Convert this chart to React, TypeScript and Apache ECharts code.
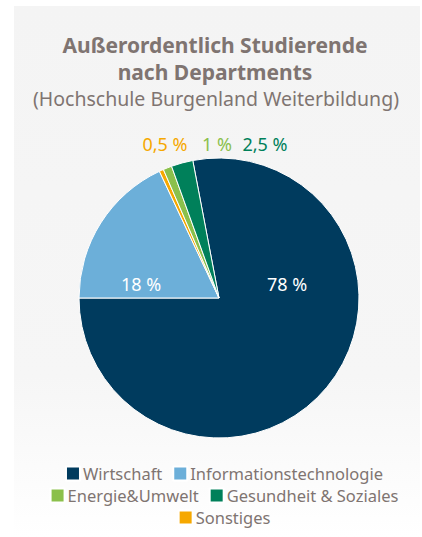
import React, { useEffect, useRef } from "react";
import * as echarts from "echarts";

const titleLines = ["Außerordentlich Studierende", "nach Departments"];
const subtitle = "(Hochschule Burgenland Weiterbildung)";
const categories = ["Wirtschaft", "Informationstechnologie", "Sonstiges", "Energie&Umwelt", "Gesundheit & Soziales"];
const values = [78, 18, 0.5, 1, 2.5];
const labelTexts = ["78 %", "18 %", "0,5 %", "1 %", "2,5 %"];
const colors = ["#003b5e", "#6cafd9", "#f6a800", "#8bc04b", "#00805a"];
const legendRows = [
  ["Wirtschaft", "Informationstechnologie"],
  ["Energie&Umwelt", "Gesundheit & Soziales"],
  ["Sonstiges"],
];

const FONT = "'Noto Sans', sans-serif";
const TEXT = "#7f7471";

export default function App() {
  const ref = useRef<HTMLDivElement>(null);
  useEffect(() => {
    document.body.style.margin = "0";
    const chart = echarts.init(ref.current!, null, { renderer: "svg" });
    const labelPos: Record<number, [number, number]> = {
      0: [287, 284],
      1: [141, 284],
      2: [165, 144],
      3: [217, 144],
      4: [265, 144],
    };
    chart.setOption({
      animation: false,
      title: [
        {
          text: titleLines.join("\n"),
          left: 215,
          textAlign: "center",
          top: 31,
          padding: 0,
          textStyle: { fontFamily: FONT, fontSize: 21, fontWeight: "bold", color: TEXT, lineHeight: 27 },
        },
        {
          text: subtitle,
          left: 216,
          textAlign: "center",
          top: 86,
          padding: 0,
          textStyle: { fontFamily: FONT, fontSize: 19.5, fontWeight: "normal", color: TEXT, lineHeight: 24 },
        },
      ],
      legend: legendRows.map((row, i) => ({
        data: row,
        left: "center",
        top: 465 + i * 22,
        icon: "rect",
        itemWidth: 14,
        itemHeight: 14,
        itemGap: 10,
        padding: 0,
        textStyle: { fontFamily: FONT, fontSize: 16.5, color: TEXT, padding: [0, 0, 0, -2] },
        selectedMode: false,
      })),
      series: [
        {
          type: "pie",
          center: [219, 298],
          radius: 140,
          startAngle: 100.8,
          clockwise: true,
          data: categories.map((c, i) => ({
            name: c,
            value: values[i],
            itemStyle: { color: colors[i] },
            label: { color: i < 2 ? "#ffffff" : colors[i] },
          })),
          itemStyle: { borderColor: "#ffffff", borderWidth: 1 },
          label: {
            show: true,
            position: "inside",
            formatter: (p: any) => labelTexts[p.dataIndex],
            fontFamily: FONT,
            fontSize: 18,
          },
          labelLine: { show: false },
          labelLayout: (p: any) => {
            const pos = labelPos[p.dataIndex];
            return { x: pos[0], y: pos[1], align: "center", verticalAlign: "middle", hideOverlap: false };
          },
          emphasis: { disabled: true },
        },
      ],
    });
    return () => chart.dispose();
  }, []);
  return (
    <div
      style={{
        position: "fixed",
        left: 0,
        top: 0,
        width: 422,
        height: 537,
        background: "#ffffff",
        overflow: "hidden",
      }}
    >
      <div
        style={{
          position: "absolute",
          left: 14,
          top: 6,
          width: 406,
          height: 531,
          background: "linear-gradient(#f4f4f4, #f6f6f6 70%, #ffffff)",
        }}
      />
      <div ref={ref} style={{ position: "absolute", left: 0, top: 0, width: 448, height: 537 }} />
    </div>
  );
}
